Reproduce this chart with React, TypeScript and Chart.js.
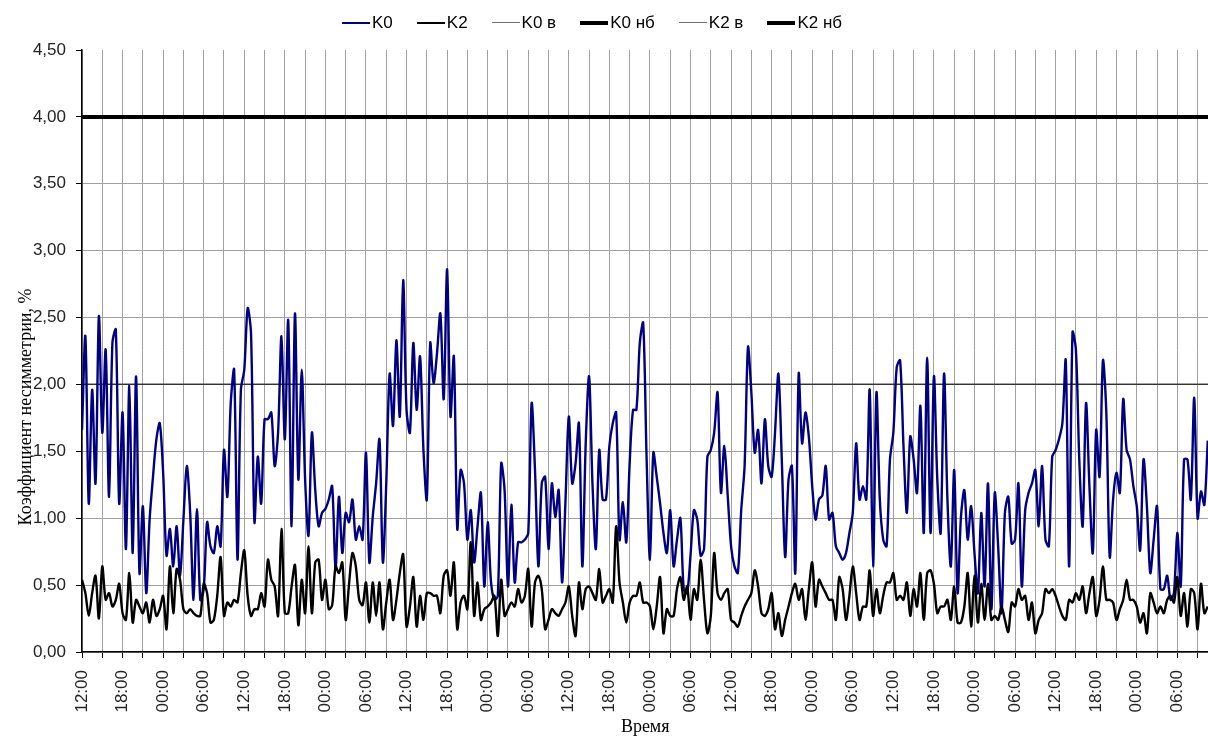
import React, { useEffect, useRef } from "react";
import { Chart, registerables } from "chart.js";

Chart.register(...registerables);

// time axis: hours since the first sample (12:00), one sample every half hour
const STEP_HOURS = 0.5;
const X_MAX_HOURS = 166.6;
const X_TICK_STEP = 3;
const hourLabels = ["12:00", "18:00", "00:00", "06:00"];
const yTickLabels = ["0,00", "0,50", "1,00", "1,50", "2,00", "2,50", "3,00", "3,50", "4,00", "4,50"];

const seriesNames = ["K0", "K2", "K0 в", "K0 нб", "K2 в", "K2 нб"];

// K0, %
const K0 = [
  1.66, 2.36, 1.11, 1.96, 1.26, 2.51, 1.64, 2.26, 1.16, 2.31,
  2.41, 1.11, 1.79, 0.77, 1.99, 0.74, 2.06, 0.59, 1.09, 0.44,
  0.99, 1.31, 1.59, 1.71, 1.34, 0.72, 0.92, 0.64, 0.94, 0.57,
  0.99, 1.39, 1.04, 0.39, 1.07, 0.39, 0.47, 0.97, 0.79, 0.74,
  0.94, 0.79, 1.51, 1.16, 1.86, 2.11, 0.69, 1.96, 2.11, 2.57,
  2.38, 0.97, 1.46, 1.11, 1.74, 1.74, 1.79, 1.39, 1.64, 2.36,
  1.59, 2.48, 0.94, 2.53, 1.29, 2.11, 1.29, 0.87, 1.64, 1.21,
  0.94, 1.04, 1.07, 1.14, 1.24, 0.62, 1.16, 0.74, 1.04, 0.97,
  1.14, 0.84, 0.94, 0.84,
  1.49, 0.67, 1.01, 1.26, 1.59, 0.67, 1.26, 2.08, 1.69, 2.33,
  1.76, 2.78, 1.81, 1.64, 2.31, 1.81, 2.21, 1.51, 1.14, 2.31,
  2.01, 2.23, 2.53, 1.89, 2.86, 1.76, 2.21, 0.92, 1.36, 1.26,
  0.84, 1.06, 0.67, 0.94, 1.19, 0.49, 0.97, 0.52, 0.39, 0.42,
  1.41, 1.21, 0.49, 1.10, 0.52, 0.82, 0.82, 0.84, 0.89, 1.86,
  1.36, 0.64, 1.26, 1.31, 0.77, 1.26, 1.01, 1.21, 0.52, 1.12,
  1.76, 1.26, 1.41, 1.71, 0.64, 1.56, 2.06, 1.26, 0.77, 1.51,
  1.14, 1.14, 1.54, 1.71, 1.79, 0.84, 1.12, 0.82, 1.41, 1.81,
  1.81, 2.31, 2.46, 1.46, 0.69,
  1.49, 1.31, 1.11, 0.89, 0.74, 1.06, 0.64, 0.84, 1.00, 0.47,
  0.44, 0.72, 1.06, 0.99, 0.72, 0.77, 1.46, 1.51, 1.64, 1.94,
  1.19, 1.54, 1.17, 0.79, 0.64, 0.59, 1.06, 1.39, 2.28, 1.94,
  1.49, 1.66, 1.26, 1.74, 1.39, 1.31, 1.64, 2.08, 1.44, 0.71,
  1.29, 1.39, 0.59, 2.08, 1.56, 1.79, 1.61, 1.24, 0.99, 1.14,
  1.17, 1.39, 0.99, 1.04, 0.79, 0.74, 0.69, 0.74, 0.89, 1.04,
  1.56, 1.14, 1.24, 1.14, 1.96, 0.64, 1.94, 1.14, 0.84, 0.79,
  1.44, 1.64, 2.13, 2.18, 1.54, 1.04, 1.61, 1.44, 1.19, 1.84,
  0.89, 2.20, 0.89, 2.06, 1.29, 0.89,
  2.08, 1.14, 0.64, 1.36, 0.44, 1.01, 1.21, 0.84, 1.09, 0.74,
  0.44, 1.04, 0.49, 1.26, 0.32, 1.19, 0.79, 0.29, 1.04, 1.16,
  0.81, 0.84, 1.26, 0.49, 1.06, 1.19, 1.26, 1.36, 0.94, 1.39,
  0.84, 0.79, 1.46, 1.51, 1.59, 1.71, 2.18, 0.64, 2.39, 2.26,
  1.44, 0.94, 1.86, 1.24, 0.74, 1.66, 1.31, 2.18, 1.79, 0.71,
  1.14, 1.34, 1.19, 1.89, 1.51, 1.44, 1.24, 1.09, 0.76, 1.44,
  1.09, 0.59, 0.84, 1.09, 0.47, 0.47, 0.57, 0.39, 0.44, 0.89,
  0.49, 1.44, 1.44, 1.14, 1.90, 1.00, 1.20, 1.10, 1.58,
];

// K2, %
const K2 = [
  0.54, 0.44, 0.27, 0.44, 0.57, 0.25, 0.64, 0.39, 0.44, 0.34,
  0.39, 0.51, 0.29, 0.24, 0.59, 0.22, 0.39, 0.34, 0.29, 0.37,
  0.22, 0.39, 0.27, 0.32, 0.42, 0.17, 0.64, 0.29, 0.62, 0.54,
  0.32, 0.29, 0.32, 0.29, 0.27, 0.27, 0.51, 0.44, 0.22, 0.24,
  0.42, 0.71, 0.27, 0.37, 0.34, 0.39, 0.37, 0.59, 0.76, 0.42,
  0.27, 0.32, 0.32, 0.44, 0.34, 0.69, 0.54, 0.49, 0.27, 0.92,
  0.29, 0.29, 0.49, 0.65, 0.20, 0.54, 0.29, 0.79, 0.29, 0.67,
  0.69, 0.39, 0.54, 0.32, 0.35, 0.64, 0.59, 0.67, 0.24, 0.51,
  0.74, 0.64, 0.39, 0.35,
  0.52, 0.22, 0.52, 0.27, 0.52, 0.17, 0.37, 0.54, 0.24, 0.39,
  0.59, 0.73, 0.19, 0.34, 0.56, 0.19, 0.42, 0.24, 0.44, 0.44,
  0.42, 0.42, 0.29, 0.57, 0.61, 0.42, 0.67, 0.17, 0.37, 0.42,
  0.32, 0.82, 0.27, 0.52, 0.24, 0.32, 0.34, 0.37, 0.42, 0.12,
  0.54, 0.27, 0.32, 0.37, 0.34, 0.47, 0.37, 0.42, 0.62, 0.19,
  0.52, 0.57, 0.47, 0.17, 0.24, 0.32, 0.29, 0.27, 0.32, 0.37,
  0.49, 0.27, 0.12, 0.52, 0.32, 0.47, 0.49, 0.44, 0.39, 0.62,
  0.37, 0.42, 0.47, 0.37, 0.94, 0.52, 0.37, 0.22, 0.37, 0.42,
  0.42, 0.52, 0.37, 0.37, 0.34,
  0.17, 0.34, 0.56, 0.14, 0.32, 0.27, 0.27, 0.47, 0.56, 0.39,
  0.49, 0.24, 0.47, 0.39, 0.69, 0.39, 0.14, 0.27, 0.74, 0.44,
  0.39, 0.44, 0.47, 0.24, 0.22, 0.19, 0.27, 0.34, 0.39, 0.44,
  0.61, 0.49, 0.29, 0.27, 0.32, 0.44, 0.17, 0.29, 0.12, 0.24,
  0.34, 0.44, 0.51, 0.39, 0.47, 0.24, 0.47, 0.67, 0.34, 0.54,
  0.49, 0.44, 0.39, 0.39, 0.24, 0.56, 0.47, 0.24, 0.42, 0.64,
  0.44, 0.24, 0.34, 0.34, 0.61, 0.27, 0.47, 0.29, 0.42, 0.52,
  0.52, 0.59, 0.39, 0.42, 0.39, 0.52, 0.27, 0.47, 0.34, 0.59,
  0.24, 0.59, 0.61, 0.51, 0.29, 0.34,
  0.34, 0.39, 0.24, 0.49, 0.22, 0.22, 0.34, 0.59, 0.19, 0.57,
  0.22, 0.51, 0.24, 0.51, 0.24, 0.27, 0.24, 0.34, 0.24, 0.15,
  0.37, 0.34, 0.47, 0.39, 0.42, 0.24, 0.37, 0.14, 0.24, 0.29,
  0.47, 0.44, 0.47, 0.42, 0.34, 0.27, 0.24, 0.39, 0.37, 0.44,
  0.39, 0.49, 0.29, 0.44, 0.56, 0.27, 0.39, 0.64, 0.39, 0.39,
  0.37, 0.24, 0.32, 0.39, 0.54, 0.39, 0.39, 0.34, 0.22, 0.29,
  0.14, 0.44, 0.37, 0.29, 0.34, 0.29, 0.39, 0.42, 0.37, 0.56,
  0.27, 0.44, 0.19, 0.47, 0.44, 0.17, 0.51, 0.29, 0.34,
];

// normative limits (two end points over the whole period)
const limitHours = [0, X_MAX_HOURS];
const K0_v = [2.0, 2.0];
const K2_v = [2.0, 2.0];
const K0_nb = [4.0, 4.0];
const K2_nb = [4.0, 4.0];

const NAVY = "#000080";
const BLACK = "#000000";
const THIN_LINE = "#333333";
const THIN_LEGEND = "#707070";

const legendStyle = [
  { color: NAVY, width: 2 },
  { color: BLACK, width: 2 },
  { color: THIN_LEGEND, width: 1.3 },
  { color: BLACK, width: 4 },
  { color: THIN_LEGEND, width: 1.3 },
  { color: BLACK, width: 4 },
];

const toSeries = (vals: number[]) => vals.map((v, i) => ({ x: i * STEP_HOURS, y: v }));
const toLimit = (vals: number[]) => vals.map((v, i) => ({ x: limitHours[i], y: v }));

const yTitlePlugin = {
  id: "yTitleCustom",
  afterDraw(chart: any) {
    const ctx = chart.ctx;
    const area = chart.chartArea;
    ctx.save();
    ctx.translate(31, area.top + 357);
    ctx.rotate(-Math.PI / 2);
    ctx.font = "18px 'Liberation Serif', 'Times New Roman', serif";
    ctx.fillStyle = "#000";
    ctx.textAlign = "center";
    ctx.textBaseline = "alphabetic";
    ctx.fillText("Коэффициент несимметрии, %", 0, 0);
    ctx.restore();
  },
};

export default function App() {
  const ref = useRef<HTMLCanvasElement | null>(null);

  useEffect(() => {
    if (!ref.current) return;
    const chart = new Chart(ref.current, {
      type: "line",
      data: {
        datasets: [
          { label: seriesNames[3], data: toLimit(K0_nb), borderColor: BLACK, borderWidth: 4, pointRadius: 0, order: 0 },
          { label: seriesNames[5], data: toLimit(K2_nb), borderColor: BLACK, borderWidth: 4, pointRadius: 0, order: 1 },
          { label: seriesNames[1], data: toSeries(K2), borderColor: BLACK, borderWidth: 2.4, pointRadius: 0, tension: 0.3, order: 2 },
          { label: seriesNames[0], data: toSeries(K0), borderColor: NAVY, borderWidth: 2.4, pointRadius: 0, tension: 0.3, order: 3 },
          { label: seriesNames[2], data: toLimit(K0_v), borderColor: THIN_LINE, borderWidth: 1.2, pointRadius: 0, order: 4 },
          { label: seriesNames[4], data: toLimit(K2_v), borderColor: THIN_LINE, borderWidth: 1.2, pointRadius: 0, order: 5 },
        ],
      },
      options: {
        responsive: false,
        animation: false,
        devicePixelRatio: 1,
        layout: { padding: { top: 50, right: 0, left: 0, bottom: 0 } },
        plugins: { legend: { display: false }, tooltip: { enabled: false }, title: { display: false } },
        scales: {
          x: {
            type: "linear",
            min: 0,
            max: X_MAX_HOURS,
            afterFit: (s: any) => { s.height = 86; },
            ticks: {
              stepSize: X_TICK_STEP,
              autoSkip: false,
              includeBounds: false,
              maxRotation: 90,
              minRotation: 90,
              padding: 12,
              color: "#222",
              font: { family: "'Liberation Sans', Arial, sans-serif", size: 17 },
              callback: (value: any) => {
                const v = Number(value);
                if (v % 6 !== 0) return "";
                return hourLabels[(v / 6) % hourLabels.length];
              },
            },
            grid: { color: "#a0a0a0", lineWidth: 1, tickLength: 6, tickColor: "#000" },
            border: { color: "#000", width: 1.5 },
            title: {
              display: true,
              text: "Время",
              color: "#000",
              padding: { top: 0, bottom: 0 },
              font: { family: "'Liberation Serif', 'Times New Roman', serif", size: 18 },
            },
          },
          y: {
            min: 0,
            max: 4.5,
            afterFit: (s: any) => { s.width = 82; },
            ticks: {
              stepSize: 0.5,
              padding: 10,
              color: "#222",
              font: { family: "'Liberation Sans', Arial, sans-serif", size: 17 },
              callback: (value: any) => yTickLabels[Math.round(Number(value) / 0.5)],
            },
            grid: {
              color: (c: any) => (c.tick && c.tick.value >= 4.5 ? "rgba(0,0,0,0)" : "#a0a0a0"),
              lineWidth: 1,
              tickLength: 6,
              tickColor: "#000",
            },
            border: { color: "#000", width: 1.5 },
          },
        },
      },
      plugins: [yTitlePlugin],
    } as any);
    return () => chart.destroy();
  }, []);

  return (
    <div style={{ position: "fixed", left: 0, top: 0, width: 1208, height: 738, background: "#fff", overflow: "hidden" }}>
      <canvas ref={ref} width={1230} height={738} style={{ display: "block" }} />
      <div
        style={{
          position: "absolute",
          left: 342,
          top: 12,
          height: 21,
          display: "flex",
          alignItems: "center",
          fontFamily: "'Liberation Sans', Arial, sans-serif",
          fontSize: 17,
          color: "#000",
          whiteSpace: "nowrap",
        }}
      >
        {seriesNames.map((name, i) => (
          <div key={name} style={{ display: "flex", alignItems: "center", marginRight: 24 }}>
            <span
              style={{
                display: "inline-block",
                width: 28,
                height: legendStyle[i].width,
                background: legendStyle[i].color,
                marginRight: 2,
              }}
            />
            <span>{name}</span>
          </div>
        ))}
      </div>
    </div>
  );
}
